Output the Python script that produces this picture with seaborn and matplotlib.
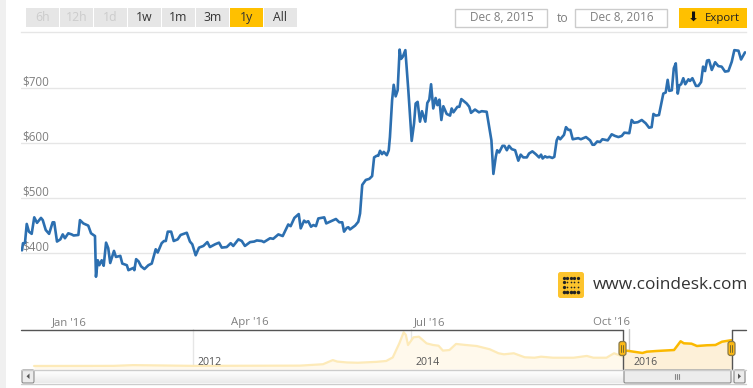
import matplotlib
matplotlib.use('Agg')
import matplotlib.pyplot as plt
import matplotlib.patches as mpatches
import numpy as np
import pandas as pd
import seaborn as sns

# Main series: days since Dec 8 2015 and price in USD
days = [0, 0.5, 1.5, 2.4, 3.5, 4.9, 6.2, 7.6, 9.6, 10.5, 12, 13.7, 15.5, 16.3, 17.7, 19.4, 20.6, 21.7, 23.4, 25.1,
        26.1, 28.5, 29.3, 31, 33.5, 34.9, 36.9, 37.4, 38.3, 39.1, 40.3, 41.3, 42.5, 43.6, 44.6, 46.5, 47.5, 49.7, 50.7, 53,
        53.8, 56.3, 56.8, 57.7, 58.9, 60.2, 61.9, 63.9, 65.6, 67.6, 68.6, 70.6, 71.8, 72.7, 73.7, 75.4, 76.7, 78.7, 80.2, 83.3,
        84.9, 86.1, 87.8, 89.5, 91.7, 93.7, 95, 97.6, 99.6, 101, 103.5, 105.5, 106.8, 109.4, 111.1, 112.7, 115.3, 117.4, 118.7, 121.2,
        122.3, 125.4, 127, 129.6, 131.8, 134.6, 135.8, 137.7, 139.9, 140.9, 142.6, 143.6, 144.7, 146.1, 147.3, 148.6, 149.8, 152.8, 153.8, 158.7,
        160.4, 161.9, 162.8, 164.2, 165, 165.8, 168.4, 170, 170.9, 172, 173.8, 175.6, 177, 178, 179.3, 180.1, 181, 182, 182.9, 184.4,
        185.4, 186, 187.1, 187.9, 188.9, 189.9, 190.9, 191.6, 192.5, 193.8, 195.3, 197, 198.2, 199, 200, 201.2, 202.2, 203.9, 204.9, 205.9,
        206.8, 207.9, 209.1, 210, 211, 212, 213, 214.7, 216.4, 217.2, 218.1, 220.1, 221.1, 222.1, 224.8, 226.1, 227, 229, 231, 232.4,
        234.9, 237.3, 238.3, 239.5, 240.2, 241.2, 242.9, 243.9, 245.1, 246.2, 247.6, 249.3, 250.9, 252.1, 253.4, 255.2, 256.3, 258, 259.7, 261.4,
        262.4, 263.2, 264.4, 265.4, 266.6, 268.1, 269.1, 270.3, 271.1, 272.1, 274, 275, 276.2, 277.2, 278.4, 281.2, 282.5, 285.1, 287.2, 288.4,
        289.3, 290.8, 292.2, 293.4, 296.1, 298.1, 299.8, 301.5, 303.2, 304.5, 307, 308.2, 309.4, 311.3, 313.3, 315.3, 317, 318.3, 319.2, 320.4,
        322, 324.2, 325.4, 326.4, 327.2, 328.5, 329.5, 330.5, 331.5, 332.3, 333.2, 334.3, 335.3, 336.9, 337.7, 338.9, 340.7, 341.9, 343.3, 344.3,
        345.3, 346.3, 347.3, 348.7, 350.4, 352, 353.7, 355.4, 357.1, 358.8, 360.1, 362.2, 363.5, 365.5]
prices = [405, 418, 418, 453, 439, 435, 465, 455, 464, 460, 442, 435, 456, 456, 421, 425, 434, 427, 436, 434,
          432, 433, 460, 454, 450, 436, 431, 357, 387, 378, 387, 377, 419, 409, 382, 404, 393, 395, 381, 378,
          369, 373, 369, 389, 385, 376, 371, 378, 381, 407, 401, 418, 422, 422, 439, 439, 422, 425, 433, 437,
          421, 416, 396, 410, 413, 420, 411, 416, 419, 410, 411, 418, 413, 425, 422, 413, 420, 421, 423, 422,
          420, 427, 426, 434, 431, 452, 449, 464, 471, 445, 459, 456, 458, 448, 451, 449, 463, 465, 454, 462,
          456, 456, 439, 446, 447, 443, 450, 457, 472, 524, 533, 535, 540, 574, 577, 577, 586, 580, 584, 578,
          587, 611, 678, 706, 685, 696, 770, 753, 757, 769, 696, 604, 636, 672, 675, 639, 658, 639, 673, 679,
          707, 663, 682, 669, 679, 642, 667, 653, 650, 663, 656, 666, 666, 680, 672, 666, 655, 661, 656, 658,
          657, 605, 544, 575, 587, 583, 595, 595, 587, 595, 589, 587, 568, 579, 574, 574, 581, 585, 580, 574,
          579, 572, 576, 574, 575, 573, 575, 605, 611, 607, 615, 629, 624, 624, 607, 609, 607, 611, 605, 597,
          597, 603, 602, 607, 605, 616, 613, 611, 613, 619, 618, 642, 637, 638, 642, 636, 628, 629, 653, 650,
          651, 690, 692, 715, 695, 696, 736, 745, 690, 705, 707, 718, 707, 716, 713, 718, 704, 704, 711, 739,
          731, 750, 751, 733, 747, 740, 739, 730, 731, 748, 769, 768, 752, 765]

# Navigator series, full history in fractional years
nav_years = [2010.54, 2011.27, 2011.45, 2012, 2012.98, 2013.19, 2013.28, 2013.32, 2013.41, 2013.51, 2013.68, 2013.77,
             2013.83, 2013.89, 2013.93, 2013.95, 2013.97, 2014.02, 2014.07, 2014.14, 2014.20, 2014.25, 2014.29, 2014.35,
             2014.41, 2014.50, 2014.60, 2014.72, 2014.80, 2014.85, 2014.94, 2015.04, 2015.13, 2015.19, 2015.30, 2015.49,
             2015.61, 2015.67, 2015.79, 2015.86, 2015.94]
nav_prices = [1, 5, 30, 5, 13, 60, 200, 150, 120, 110, 140, 170, 290, 765, 1140, 1050, 710, 970, 990, 765, 710, 685,
              520, 540, 745, 710, 675, 565, 430, 395, 430, 295, 280, 315, 280, 280, 340, 280, 280, 430, 320]
sel_years = [2015.94, 2015.98, 2016.04, 2016.12, 2016.16, 2016.25, 2016.41, 2016.44, 2016.47, 2016.50, 2016.57,
             2016.62, 2016.71, 2016.79, 2016.85, 2016.93, 2016.94]
sel_prices = [500, 517, 483, 440, 483, 507, 540, 686, 835, 767, 754, 676, 700, 710, 821, 868, 868]

y_ticks = [400, 500, 600, 700]
y_labels = ['$400', '$500', '$600', '$700']
x_ticks = ['2016-01-01', '2016-04-01', '2016-07-01', '2016-10-01']
x_labels = ["Jan '16", "Apr '16", "Jul '16", "Oct '16"]
year_ticks = [2012, 2014, 2016]
buttons = ['6h', '12h', '1d', '1w', '1m', '3m', '1y', 'All']

W, H = 753, 388
BLUE = '#2c6fb0'
GOLD = '#ffc000'
GRID = '#e6e6e6'


def px_axes(left, top, right, bottom, **kw):
    return fig.add_axes([left / W, 1 - bottom / H, (right - left) / W, (bottom - top) / H], **kw)


sns.set_theme(style='white')
plt.rcParams['font.family'] = ['Open Sans', 'DejaVu Sans']

fig = plt.figure(figsize=(W / 100, H / 100), dpi=100, facecolor='white')

# page furniture in pixel coordinates
bg = px_axes(0, 0, W, H, zorder=0)
bg.set_xlim(0, W)
bg.set_ylim(H, 0)
bg.axis('off')
bg.add_patch(mpatches.Rectangle((0, 0), 6, H, color='#f0f0f0', lw=0))

for i, b in enumerate(buttons):
    x0 = 26 + i * 34
    active = b == '1y'
    bg.add_patch(mpatches.Rectangle((x0, 8), 33, 19, color=GOLD if active else GRID, lw=0))
    bg.text(x0 + 16.5, 17.8, b, ha='center', va='center', fontsize=8.8,
            color='#cccccc' if i < 3 else '#333333')

for x0, label in [(455.5, 'Dec 8, 2015'), (575.5, 'Dec 8, 2016')]:
    bg.add_patch(mpatches.Rectangle((x0, 8.5), 92, 18, fc='white', ec='#cccccc', lw=1))
    bg.text(x0 + 46, 17.5, label, ha='center', va='center', fontsize=8.5, color='#7f7f7f')
bg.text(563, 18.5, 'to', ha='center', va='center', fontsize=8.8, color='#7f7f7f')
bg.add_patch(mpatches.Rectangle((679, 8), 68, 20, color=GOLD, lw=0))
bg.text(693, 17.5, '\u2b07', ha='center', va='center', fontsize=9.5, color='#111111', family='DejaVu Sans')
bg.text(722, 18, 'Export', ha='center', va='center', fontsize=8.2, color='#222222')

# main chart
df = pd.DataFrame({'date': pd.Timestamp('2015-12-08') + pd.to_timedelta(days, unit='D'), 'price': prices})
ax = px_axes(21, 32, 746, 296, zorder=1)
ax.patch.set_alpha(0)
ax.grid(True, axis='y', color=GRID, lw=1)
ax.set_axisbelow(True)
sns.lineplot(data=df, x='date', y='price', ax=ax, color=BLUE, lw=1.9, estimator=None, zorder=3)
ax.set_xlim(pd.Timestamp('2015-12-08') - pd.Timedelta(days=0.5), pd.Timestamp('2016-12-08'))
ax.set_ylim(322, 802)
ax.set_xlabel('')
ax.set_ylabel('')
ax.set_yticks(y_ticks, y_labels)
ax.set_xticks(pd.to_datetime(x_ticks), x_labels)
ax.tick_params(axis='y', length=0, pad=-1, labelsize=8.4, labelcolor='#7f7f7f')
ax.tick_params(axis='x', length=0, pad=15, labelsize=8.2, labelcolor='#7f7f7f')
for lab in ax.get_yticklabels():
    lab.set_ha('left')
    lab.set_va('bottom')
for name, sp in ax.spines.items():
    sp.set_visible(name == 'top')
ax.spines['top'].set_color(GRID)
ax.spines['top'].set_linewidth(1)

# navigator
nav = px_axes(21, 329, 746, 369, zorder=1)
nav.patch.set_alpha(0)
nav.set_xlim(2010.42, 2017.07)
nav.set_ylim(-101, 1250)
nav.fill_between(nav_years, nav_prices, -101, color='#fff9ec', lw=0, zorder=1)
nav.fill_between(sel_years, sel_prices, -101, color='#fdf0d8', lw=0, zorder=1)
for y in year_ticks:
    nav.axvline(y, color=GRID if y != 2016 else '#c8c8c8', lw=1, zorder=0.5)
sns.lineplot(x=nav_years, y=nav_prices, ax=nav, color='#fdeab8', lw=1.6, estimator=None, zorder=2)
sns.lineplot(x=sel_years, y=sel_prices, ax=nav, color='#fbb900', lw=1.8, estimator=None, zorder=3)
nav.set_xticks([])
nav.set_yticks([])
nav.set_xlabel('')
nav.set_ylabel('')
for sp in nav.spines.values():
    sp.set_visible(False)
for y in year_ticks:
    nav.text(y + 0.04, 120, str(y), ha='left', va='center', fontsize=7.6, color='#555555', zorder=4)

# navigator frame, scrollbar and logo drawn on top
fg = px_axes(0, 0, W, H, zorder=2)
fg.patch.set_alpha(0)
fg.set_xlim(0, W)
fg.set_ylim(H, 0)
fg.axis('off')
DARK = '#555555'
fg.plot([21, 623], [329.5, 329.5], color=DARK, lw=1)
fg.plot([732, 746], [329.5, 329.5], color=DARK, lw=1)
fg.plot([623, 623], [329.5, 369], color=DARK, lw=1)
fg.plot([732, 732], [329.5, 369], color=DARK, lw=1)
fg.plot([21, 746], [369.5, 369.5], color='#cccccc', lw=1)
fg.plot([21, 746], [383.5, 383.5], color='#cccccc', lw=1)
grad = np.linspace(1, 0.92, 20).reshape(-1, 1)
fg.imshow(grad, extent=(35, 746, 383, 370), cmap='gray', vmin=0, vmax=1, aspect='auto', zorder=0.5)
fg.set_xlim(0, W)
fg.set_ylim(H, 0)
for x0, w in [(21, 14), (623, 109), (733, 13)]:
    fg.add_patch(mpatches.FancyBboxPatch((x0 + 1, 370), w - 2, 13, boxstyle='round,pad=0,rounding_size=1.5',
                                         fc='#ececec', ec='#888888', lw=0.8, zorder=1))
fg.add_patch(mpatches.Polygon([[29.5, 373.5], [29.5, 379], [26.5, 376.3]], color='#555555', lw=0, zorder=2))
fg.add_patch(mpatches.Polygon([[738, 373.5], [738, 379], [741, 376.3]], color='#555555', lw=0, zorder=2))
for x0 in [675.5, 677.5, 679.5]:
    fg.plot([x0, x0], [374, 379], color='#888888', lw=0.8, zorder=2)
for x0 in [622.5, 731.5]:
    fg.add_patch(mpatches.FancyBboxPatch((x0 - 3.5, 341.5), 7, 14, boxstyle='round,pad=0,rounding_size=2.5',
                                         fc='#fdb913', ec='#8a7a4a', lw=0.9, zorder=3))
    fg.plot([x0 - 1, x0 - 1], [345, 352], color='#7a6a2a', lw=0.7, zorder=4)
    fg.plot([x0 + 1, x0 + 1], [345, 352], color='#7a6a2a', lw=0.7, zorder=4)

# logo
fg.add_patch(mpatches.FancyBboxPatch((558, 272), 26, 26, boxstyle='round,pad=0,rounding_size=2.5',
                                     fc='#fdc42d', ec='none', zorder=3))
for row, size in zip([278, 282.2, 286.7, 291.7], [5.5, 1.5, 1.5, 6.5]):
    for col in [564, 567.5, 571, 574.5, 578]:
        fg.scatter(col, row, s=size, color='#222222', lw=0, zorder=4)
fg.scatter([564, 564], [282.2, 286.7], s=5.5, color='#222222', lw=0, zorder=4)
fg.text(593, 285, 'www.coindesk.com', ha='left', va='center', fontsize=12.4, color='#333333', zorder=4)

fig.savefig('out.png', dpi=100)
